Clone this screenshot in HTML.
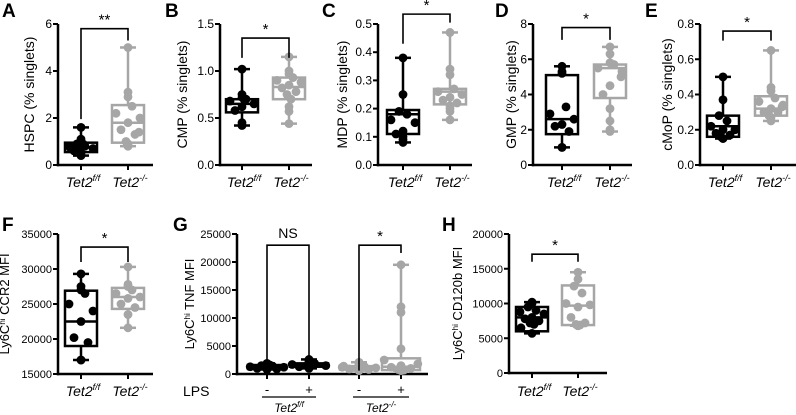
<!DOCTYPE html>
<html><head><meta charset="utf-8">
<style>
html,body{margin:0;padding:0;background:#fff;}
svg{display:block;font-family:"Liberation Sans",Arial,sans-serif;}
</style></head>
<body>
<svg id="fig" width="796" height="415" viewBox="0 0 796 415" xmlns="http://www.w3.org/2000/svg"></svg>
<script>
// ---- data ----
const groupLabels = ["f/f","-/-"];
const aWT=[1.6,1.1,0.9,0.8,0.8,0.7,0.7,0.6,0.5,0.4,0.9,0.75];
const aKO=[5.0,3.1,2.9,2.5,2.2,2.0,1.8,1.5,1.3,1.0,0.8,0.8,1.4,0.9];
const aBox=[[0.4,0.55,0.75,0.95,1.6],[0.8,0.95,1.8,2.55,5.0]];
const bWT=[1.02,0.75,0.72,0.7,0.68,0.65,0.62,0.58,0.45,0.42,0.7];
const bKO=[1.15,1.0,0.97,0.93,0.9,0.88,0.85,0.82,0.78,0.75,0.7,0.62,0.57,0.44];
const bBox=[[0.42,0.56,0.65,0.7,1.02],[0.44,0.7,0.83,0.93,1.15]];
const cWT=[0.38,0.25,0.19,0.18,0.16,0.15,0.12,0.11,0.1,0.09,0.08];
const cKO=[0.47,0.34,0.32,0.27,0.26,0.25,0.24,0.23,0.22,0.21,0.2,0.19,0.16];
const cBox=[[0.08,0.11,0.18,0.195,0.38],[0.16,0.215,0.26,0.27,0.47]];
const dWT=[5.6,5.3,5.2,3.3,2.9,2.6,2.3,2.2,1.9,1.0,1.0];
const dKO=[6.7,6.3,5.8,5.7,5.5,5.3,4.5,4.0,3.2,2.5,2.0,1.9,5.0];
const dBox=[[1.0,1.75,2.6,5.1,5.6],[1.9,3.8,5.5,5.7,6.7]];
const eWT=[0.5,0.37,0.28,0.25,0.22,0.2,0.2,0.18,0.17,0.16,0.15];
const eKO=[0.65,0.44,0.42,0.38,0.36,0.34,0.32,0.3,0.3,0.28,0.27,0.25,0.33];
const eBox=[[0.15,0.16,0.22,0.28,0.5],[0.25,0.28,0.32,0.39,0.65]];
const fWT=[29300,27500,27000,26500,25000,24000,22500,20200,19500,17000,17000];
const fKO=[30300,27800,27500,27000,26500,26000,25800,25000,24500,23500,21600];
const fBox=[[17000,19000,22500,26900,29300],[21600,24300,26000,27300,30300]];
const gWTneg=[1900,1700,1500,1400,1300,1200,1100,1000,900,800,1600];
const gWTpos=[2600,2200,2000,1900,1700,1500,1400,1300,1100,1000,2400];
const gKOneg=[2100,1700,1500,1300,1200,1100,1000,900,800,700,600,1400];
const gKOpos=[19500,12000,11000,4500,2500,1800,1500,1200,1000,800,700,600];
const gBox=[[800,900,1300,1600,1900],[1000,1300,1600,1900,2600],[600,800,1100,1400,2100],[600,700,1300,2800,19500]];
const hWT=[10200,10000,9500,9000,8800,8500,8000,7800,7500,7200,7000,6500,5700];
const hKO=[14500,13500,12500,11500,10000,9800,9500,8000,7200,7000,6900,6800,6800];
const hBox=[[5700,6000,8000,9500,10200],[6800,6900,9700,12600,14500]];
const ticksA=[0,2,4,6], ticksB=["0.0","0.5","1.0","1.5"], ticksC=["0.0","0.1","0.2","0.3","0.4","0.5"];
const ticksD=[0,2,4,6,8], ticksE=["0.0","0.2","0.4","0.6","0.8"];
const ticksF=[15000,20000,25000,30000,35000], ticksG=[0,5000,10000,15000,20000,25000], ticksH=[0,5000,10000,15000,20000];

const NS="http://www.w3.org/2000/svg", svg=document.getElementById("fig");
function mk(tag,attrs,parent){const e=document.createElementNS(NS,tag);for(const k in attrs)e.setAttribute(k,attrs[k]);(parent||svg).appendChild(e);return e;}
const jit=[-10,10,-4,4,-12,12,0,-7,7,-2,2,-11,11,-5,5];

function panel(p){
  const g=mk("g",{});
  
  
  const lo=Number(p.ticks[0]), hi=Number(p.ticks[p.ticks.length-1]);
  const y=v=>p.y0-(v-lo)/(hi-lo)*(p.y0-p.y1);
  const L=mk("text",{x:p.lx,y:p.ly,"font-size":19,"font-weight":"bold"},g);L.textContent=p.letter;
  
  
  const ya=mk("line",{x1:p.ax,x2:p.ax,y1:p.y1,y2:p.y0+1.2,stroke:"#000","stroke-width":2.5},g);
  
  
  const xa=mk("line",{x1:p.ax-1.2,x2:p.xend,y1:p.y0,y2:p.y0,stroke:"#000","stroke-width":2.5},g);
  
  
  p.ticks.forEach(t=>{const yy=y(Number(t));
    mk("line",{x1:p.ax-5,x2:p.ax,y1:yy,y2:yy,stroke:"#000","stroke-width":2},g);
    const tx=mk("text",{x:p.ax-6,y:yy+4,"font-size":p.tfs||12,"text-anchor":"end"},g);tx.textContent=t;
    
    
  });
  const yt=mk("text",{x:0,y:0,"font-size":p.yfs||14,"text-anchor":"middle",transform:`translate(${p.tx},${(p.y0+p.y1)/2}) rotate(-90)`},g);
  yt.innerHTML=p.title;
  
  
  p.series.forEach((s,i)=>{
    const cx=p.gx[i], col=p.cols[i], b=p.boxes[i], w=p.bw||16;
    mk("line",{x1:cx,x2:cx,y1:p.y0,y2:p.y0+5,stroke:"#000","stroke-width":2},g);
    s.forEach((v,k)=>{
      const out=(v>b[3]||v<b[1]);
      const c=mk("circle",{cx:cx+(out?0:jit[k%jit.length]*(p.js||1)),cy:y(v),r:4.4,fill:col},g);
      
      });
    const bx=mk("g",{stroke:col,"stroke-width":2.5,fill:"none"},g);
    
    
    mk("line",{x1:cx,x2:cx,y1:y(b[4]),y2:y(b[3])},bx);
    mk("line",{x1:cx,x2:cx,y1:y(b[1]),y2:y(b[0])},bx);
    mk("line",{x1:cx-8,x2:cx+8,y1:y(b[4]),y2:y(b[4])},bx);
    mk("line",{x1:cx-8,x2:cx+8,y1:y(b[0]),y2:y(b[0])},bx);
    mk("rect",{x:cx-w,y:y(b[3]),width:2*w,height:Math.max(0.5,y(b[1])-y(b[3]))},bx);
    mk("line",{x1:cx-w,x2:cx+w,y1:y(b[2]),y2:y(b[2])},bx);
  });
  if(p.gl){p.gx.forEach((cx,i)=>{const t=mk("text",{x:cx+2,y:p.gly,"font-size":14,"font-style":"italic","text-anchor":"middle"},g);
    t.innerHTML=`Tet2<tspan font-size="9" dy="-6">${groupLabels[i]}</tspan>`;
    
    });}
  (p.br||[]).forEach(br=>{
    const bg=mk("g",{},g);
    
    
    const x1=p.gx[br.a],x2=p.gx[br.b];
    mk("polyline",{points:`${x1},${y(br.l)} ${x1},${y(br.top)} ${x2},${y(br.top)} ${x2},${y(br.r)}`,fill:"none",stroke:"#000","stroke-width":1.6},bg);
    const st=mk("text",{x:(x1+x2)/2,y:y(br.top)-(br.s==="NS"?7:4),"font-size":br.s==="NS"?14:15,"text-anchor":"middle"},bg);st.textContent=br.s;
  });
  return g;
}
const K="#000", G="#a6a6a6";
panel({letter:"A",lx:2,ly:17,ax:58,xend:153,y0:165,y1:24,ticks:ticksA,title:"HSPC (% singlets)",tx:34,gx:[81,128],cols:[K,G],series:[aWT,aKO],boxes:aBox,gl:1,gly:187,br:[{a:0,b:1,top:5.8,l:1.95,r:5.3,s:"**"}]});
panel({letter:"B",lx:165,ly:17,ax:220,xend:312,y0:165,y1:24,ticks:ticksB,title:"CMP (% singlets)",tx:187,gx:[242,289],cols:[K,G],series:[bWT,bKO],boxes:bBox,gl:1,gly:187,br:[{a:0,b:1,top:1.35,l:1.14,r:1.14,s:"*"}]});
panel({letter:"C",lx:322,ly:17,ax:378,xend:472,y0:165,y1:24,ticks:ticksC,title:"MDP (% singlets)",tx:347,gx:[403,450],cols:[K,G],series:[cWT,cKO],boxes:cBox,gl:1,gly:187,br:[{a:0,b:1,top:0.535,l:0.43,r:0.505,s:"*"}]});
panel({letter:"D",lx:495,ly:17,ax:533,xend:632,y0:165,y1:24,ticks:ticksD,title:"GMP (% singlets)",tx:516,gx:[562,610],cols:[K,G],series:[dWT,dKO],boxes:dBox,gl:1,gly:187,br:[{a:0,b:1,top:7.8,l:7.1,r:7.1,s:"*"}]});
panel({letter:"E",lx:645,ly:17,ax:700,xend:796,y0:165,y1:24,ticks:ticksE,title:"cMoP (% singlets)",tx:672,gx:[723,771],cols:[K,G],series:[eWT,eKO],boxes:eBox,gl:1,gly:187,br:[{a:0,b:1,top:0.76,l:0.706,r:0.706,s:"*"}]});
panel({letter:"F",lx:2,ly:231,ax:58,xend:153,y0:374,y1:234,ticks:ticksF,tfs:11,yfs:13,title:"Ly6C<tspan font-size='8' dy='-4'>hi</tspan><tspan dy='4'> CCR2 MFI</tspan>",tx:9,gx:[81,128],cols:[K,G],series:[fWT,fKO],boxes:fBox,gl:1,gly:396,br:[{a:0,b:1,top:33140,l:31000,r:31000,s:"*"}]});
panel({letter:"G",lx:173,ly:231,ax:237,xend:428,y0:374,y1:234,ticks:ticksG,tfs:11,yfs:13,title:"Ly6C<tspan font-size='8' dy='-4'>hi</tspan><tspan dy='4'> TNF MFI</tspan>",tx:194,gx:[267,309,359,401],cols:[K,K,G,G],series:[gWTneg,gWTpos,gKOneg,gKOpos],boxes:gBox,bw:19,js:1.4,br:[{a:0,b:1,top:23000,l:600,r:600,s:"NS"},{a:2,b:3,top:23000,l:600,r:21600,s:"*"}]});
panel({letter:"H",lx:442,ly:231,ax:509,xend:607,y0:373,y1:234,ticks:ticksH,tfs:11,yfs:13,title:"Ly6C<tspan font-size='8' dy='-4'>hi</tspan><tspan dy='4'> CD120b MFI</tspan>",tx:462,gx:[532,578],cols:[K,G],series:[hWT,hKO],boxes:hBox,gl:1,gly:396,br:[{a:0,b:1,top:17100,l:16000,r:16000,s:"*"}]});
[["-",267],["+",309],["-",359],["+",401]].forEach(a=>{const t=mk("text",{x:a[1],y:394,"font-size":13,"text-anchor":"middle"});t.textContent=a[0];
  
  });
const lps=mk("text",{x:183,y:396,"font-size":14});lps.textContent="LPS";


[[262,316,"f/f"],[353,409,"-/-"]].forEach(a=>{
  mk("line",{x1:a[0],x2:a[1],y1:397,y2:397,stroke:"#000","stroke-width":1.2});
  const t=mk("text",{x:(a[0]+a[1])/2,y:412,"font-size":12,"font-style":"italic","text-anchor":"middle"});
  t.innerHTML=`Tet2<tspan font-size="8" dy="-5">${a[2]}</tspan>`;
  
  
});
</script>
</body></html>
